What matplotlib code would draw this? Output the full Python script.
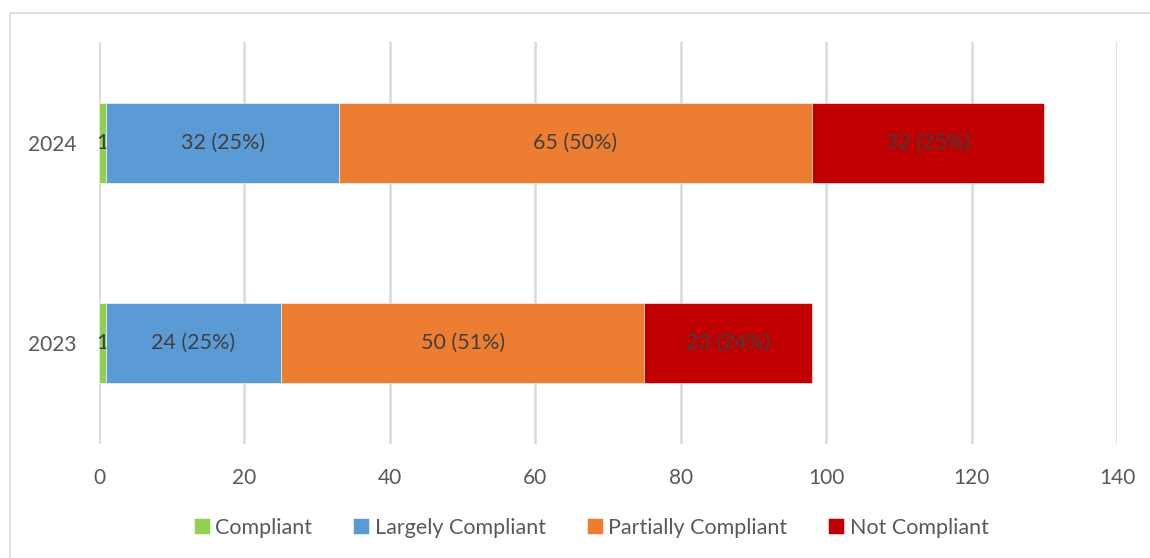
import numpy as np
import matplotlib.pyplot as plt
from matplotlib.lines import Line2D

plt.rcParams['font.family'] = ['Lato', 'DejaVu Sans']

# data
years = ['2023', '2024']
categories = ['Compliant', 'Largely Compliant', 'Partially Compliant', 'Not Compliant']
compliant = [1, 1]
largely = [24, 32]
partially = [50, 65]
not_compliant = [23, 32]
labels_compliant = ['1', '1']
labels_largely = ['24 (25%)', '32 (25%)']
labels_partially = ['50 (51%)', '65 (50%)']
labels_not = ['23 (24%)', '32 (25%)']

colors = ['#92D050', '#5B9BD5', '#ED7D31', '#C00000']
text_color = '#595959'

fig = plt.figure(figsize=(11.5, 5.58), dpi=100)
ax = fig.add_axes([99 / 1150, 1 - 444 / 558, 1018 / 1150, 402 / 558])

# outer chart frame
fig.add_artist(Line2D([10 / 1150, 10 / 1150, 1.0], [0.0, 1 - 13 / 558, 1 - 13 / 558],
                      transform=fig.transFigure, color='#D9D9D9', lw=1.2))

ypos = np.arange(len(years))
series = [compliant, largely, partially, not_compliant]
series_labels = [labels_compliant, labels_largely, labels_partially, labels_not]
left = np.zeros(len(years))
for vals, labs, col, name in zip(series, series_labels, colors, categories):
    bars = ax.barh(ypos, vals, left=left, height=0.4, color=col, label=name,
                   edgecolor='white', linewidth=0.4, zorder=3)
    ax.bar_label(bars, labels=labs, label_type='center', color='#404040', fontsize=15.5)
    left = left + np.array(vals)

ax.set_xlim(0, 140)
ax.set_ylim(-0.505, 1.505)
ax.set_xticks(np.arange(0, 141, 20))
ax.set_yticks(ypos)
ax.set_yticklabels(years)
ax.xaxis.grid(True, color='#D9D9D9', lw=1.8, zorder=0)
ax.set_axisbelow(True)
for s in ax.spines.values():
    s.set_visible(False)
ax.tick_params(axis='x', length=0, pad=17, labelsize=15, labelcolor=text_color)
ax.tick_params(axis='y', length=0, pad=16, labelsize=15, labelcolor=text_color)

fig.legend(loc='center', bbox_to_anchor=(0.514, 0.054), ncol=4, frameon=False,
           handlelength=0.75, handleheight=0.75, handletextpad=0.25, columnspacing=1.9,
           fontsize=15.5, labelcolor=text_color)

fig.savefig('out.png', dpi=100)
